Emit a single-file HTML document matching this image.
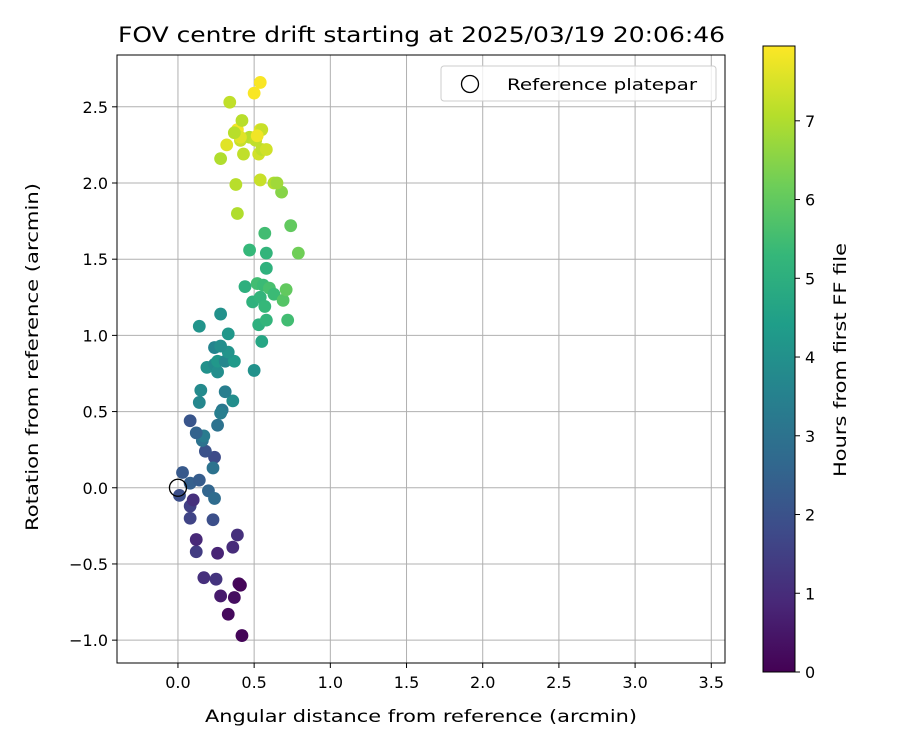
<!DOCTYPE html>
<html><head><meta charset="utf-8"><style>
body{margin:0;background:#fff}
svg{display:block;font-family:"DejaVu Sans","Liberation Sans",sans-serif}
</style></head><body>
<svg id="chart" width="900" height="750">
<defs><linearGradient id="vir" x1="0" y1="1" x2="0" y2="0"></linearGradient></defs>
<rect width="900" height="750" fill="#fff"/>
<text x="118" y="42" font-size="21" textLength="607" lengthAdjust="spacingAndGlyphs">FOV centre drift starting at 2025/03/19 20:06:46</text>
<g id="grid"></g>
<g id="ticks"></g>
<g id="points"></g>
<rect x="117" y="55" width="608" height="608" fill="none" stroke="#000" stroke-width="1"/>
<text x="205" y="722" font-size="17" textLength="432" lengthAdjust="spacingAndGlyphs">Angular distance from reference (arcmin)</text>
<text transform="translate(38,531) rotate(-90)" font-size="17" textLength="348" lengthAdjust="spacingAndGlyphs">Rotation from reference (arcmin)</text>
<g>
<rect x="441" y="66" width="275" height="35" rx="3" fill="#fff" fill-opacity="0.8" stroke="#ccc"/>
<circle cx="470" cy="84" r="8.5" fill="none" stroke="#000" stroke-width="1.3"/>
<text x="507" y="90" font-size="16" textLength="190" lengthAdjust="spacingAndGlyphs">Reference platepar</text>
</g>
<g id="cbar">
<rect x="763" y="46" width="32" height="626" fill="url(#vir)" stroke="#000" stroke-width="1"/>
<text transform="translate(846,477) rotate(-90)" font-size="17" textLength="234" lengthAdjust="spacingAndGlyphs">Hours from first FF file</text>
</g>
</svg>
<script>
const xs=[.42,.33,.37,.40,.41,.28,.17,.25,.26,.36,.39,.12,.12,.08,.08,.10,.01,.03,.08,.14,.20,.24,.23,.24,.23,.18,.16,.17,.12,.08,.26,.29,.28,.14,.15,.36,.31,.19,.24,.26,.26,.31,.37,.33,.24,.28,.33,.14,.28,.50,.44,.49,.54,.55,.53,.57,.58,.52,.56,.60,.63,.69,.71,.72,.58,.58,.47,.57,.74,.79,.68,.39,.38,.54,.63,.65,.28,.43,.32,.41,.53,.55,.58,.47,.51,.39,.41,.37,.54,.55,.42,.34,.50,.54,.52];
const ys=[-.97,-.83,-.72,-.63,-.64,-.71,-.59,-.60,-.43,-.39,-.31,-.42,-.34,-.20,-.12,-.08,-.05,.10,.03,.05,-.02,-.07,-.21,.20,.13,.24,.31,.34,.36,.44,.41,.51,.49,.56,.64,.57,.63,.79,.81,.76,.83,.83,.83,.89,.92,.93,1.01,1.06,1.14,.77,1.32,1.22,1.25,.96,1.07,1.19,1.10,1.34,1.33,1.31,1.27,1.23,1.30,1.10,1.44,1.54,1.56,1.67,1.72,1.54,1.94,1.80,1.99,2.02,2.00,2.00,2.16,2.19,2.25,2.28,2.19,2.22,2.22,2.30,2.28,2.35,2.30,2.33,2.35,2.35,2.41,2.53,2.59,2.66,2.31];
const hours=[.1,.2,.3,.2,.1,.6,1.1,1.2,.8,1.0,1.1,1.4,.9,1.6,1.5,1.1,1.9,2.2,2.4,2.3,2.6,2.8,1.9,1.8,3.0,2.0,3.0,3.3,2.5,2.1,3.0,3.2,3.4,3.7,3.8,3.9,3.4,4.0,3.8,3.9,4.2,3.7,4.3,4.1,3.6,3.9,4.2,4.1,4.0,4.0,5.0,5.1,5.2,4.7,5.0,5.3,5.2,5.5,5.4,5.6,5.4,5.8,6.0,5.5,5.1,5.2,5.3,5.5,6.0,6.2,6.5,7.0,7.1,7.3,7.0,6.8,7.0,7.2,7.6,7.3,7.4,7.2,7.4,7.1,7.2,7.8,7.6,7.1,7.6,7.3,7.1,7.2,7.9,7.9,7.8];
const xTicks=[0,0.5,1,1.5,2,2.5,3,3.5];
const yTicks=[-1,-0.5,0,0.5,1,1.5,2,2.5];
const cTicks=[0,1,2,3,4,5,6,7];
const X0=-0.40,X1=3.59,Y0=-1.15,Y1=2.84,C1=7.95;
const sx=v=>117+(v-X0)/(X1-X0)*608;
const sy=v=>663-(v-Y0)/(Y1-Y0)*608;
const sc=v=>672-v/C1*626;
const vir=[[68,1,84],[72,40,120],[62,74,137],[49,104,142],[38,130,142],[31,158,137],[53,183,121],[110,206,88],[181,222,43],[253,231,37]];
function cmap(t){t=Math.max(0,Math.min(1,t))*(vir.length-1);const i=Math.min(vir.length-2,Math.floor(t)),f=t-i;const c=vir[i].map((a,k)=>Math.round(a+(vir[i+1][k]-a)*f));return `rgb(${c})`;}
const NS='http://www.w3.org/2000/svg';
function mk(tag,at,parent){const e=document.createElementNS(NS,tag);for(const k in at)e.setAttribute(k,at[k]);parent.appendChild(e);return e;}
const grid=document.getElementById('grid'),ticks=document.getElementById('ticks'),pts=document.getElementById('points'),cb=document.getElementById('cbar');
xTicks.forEach(v=>{const x=sx(v);
const g=mk('line',{x1:x,x2:x,y1:55,y2:663,stroke:'#b0b0b0','stroke-width':1},grid);


const t=mk('line',{x1:x,x2:x,y1:663,y2:668,stroke:'#000'},ticks);


const l=mk('text',{x:x,y:688,'font-size':16,'text-anchor':'middle'},ticks);l.textContent=v.toFixed(1);

});
yTicks.forEach(v=>{const y=sy(v);
const g=mk('line',{x1:117,x2:725,y1:y,y2:y,stroke:'#b0b0b0','stroke-width':1},grid);


const t=mk('line',{x1:112,x2:117,y1:y,y2:y,stroke:'#000'},ticks);


const l=mk('text',{x:108,y:y+6,'font-size':16,'text-anchor':'end'},ticks);l.textContent=(v<0?'\u2212':'')+Math.abs(v).toFixed(1);

});
xs.forEach((v,i)=>{const c=mk('circle',{cx:sx(v),cy:sy(ys[i]),r:6.4,fill:cmap(hours[i]/C1)},pts);

});
const ref=mk('circle',{cx:sx(0),cy:sy(0),r:8.5,fill:'none',stroke:'#000','stroke-width':1.3},pts);


const grad=document.getElementById('vir');
vir.forEach((c,i)=>{mk('stop',{offset:(i/(vir.length-1)),'stop-color':`rgb(${c})`},grad);});
cTicks.forEach(v=>{const y=sc(v);
const t=mk('line',{x1:795,x2:800,y1:y,y2:y,stroke:'#000'},cb);


const l=mk('text',{x:805,y:y+6,'font-size':16},cb);l.textContent=v;

});
</script>
</body></html>
